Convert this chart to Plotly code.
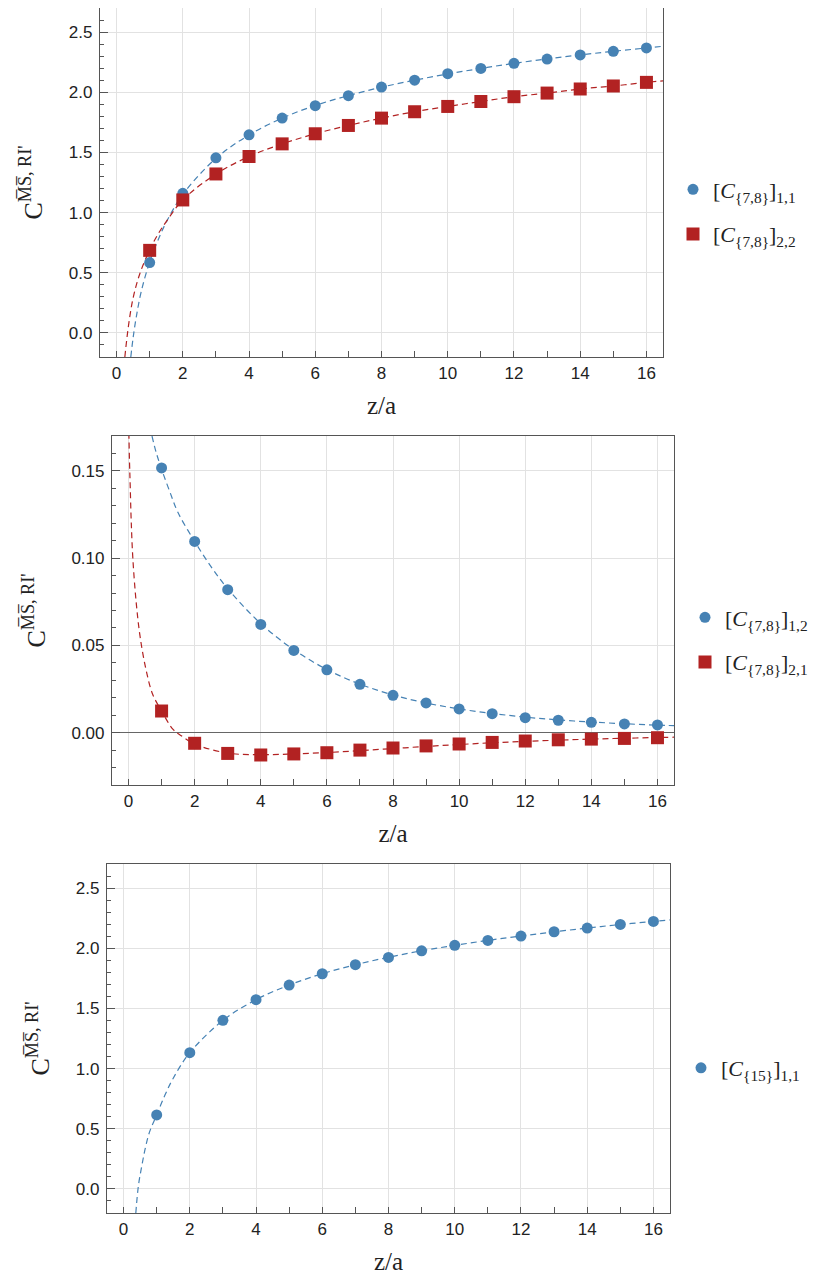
import plotly.graph_objects as go

# ---------------- data ----------------
z = [1, 2, 3, 4, 5, 6, 7, 8, 9, 10, 11, 12, 13, 14, 15, 16]

# panel 1
p1_c11 = [0.585, 1.160, 1.455, 1.646, 1.785, 1.888, 1.971, 2.043, 2.100, 2.154, 2.198, 2.240, 2.276, 2.310, 2.340, 2.368]
p1_c22 = [0.686, 1.105, 1.321, 1.466, 1.571, 1.655, 1.724, 1.785, 1.838, 1.882, 1.923, 1.963, 1.993, 2.027, 2.052, 2.082]
fit1_c11_z = [0.43, 0.5, 0.6, 0.75, 1, 1.25, 1.5, 2, 3, 4, 5, 6, 7, 8, 9, 10, 11, 12, 13, 14, 15, 16, 16.5]
fit1_c11 = [-0.2, -0.04, 0.14, 0.35, 0.59, 0.77, 0.92, 1.15, 1.45, 1.645, 1.785, 1.89, 1.972, 2.042, 2.10, 2.152,
            2.198, 2.24, 2.277, 2.31, 2.34, 2.368, 2.382]
fit1_c22_z = [0.25, 0.36, 0.5, 0.7, 1, 1.25, 1.5, 2, 3, 4, 5, 6, 7, 8, 9, 10, 11, 12, 13, 14, 15, 16, 16.5]
fit1_c22 = [-0.2, 0.06, 0.29, 0.49, 0.69, 0.82, 0.925, 1.105, 1.32, 1.466, 1.571, 1.655, 1.724, 1.785, 1.838, 1.882,
            1.923, 1.963, 1.993, 2.027, 2.052, 2.082, 2.095]

# panel 2
p2_c12 = [0.1517, 0.1096, 0.0819, 0.0620, 0.0471, 0.0360, 0.0277, 0.0214, 0.0170, 0.0136, 0.0109, 0.0086, 0.0071, 0.0059, 0.0050, 0.0044]
p2_c21 = [0.0124, -0.0061, -0.0119, -0.0128, -0.0122, -0.0115, -0.0100, -0.0088, -0.0076, -0.0065, -0.0056, -0.0048, -0.0041, -0.0037, -0.0033, -0.0029]
fit2_c12_z = [0.71, 0.83, 1, 1.25, 1.5, 2, 2.5, 3, 4, 5, 6, 7, 8, 9, 10, 11, 12, 13, 14, 15, 16, 16.5]
fit2_c12 = [0.17, 0.161, 0.151, 0.138, 0.126, 0.1096, 0.095, 0.0825, 0.0625, 0.0475, 0.0362, 0.0278, 0.0216, 0.0170,
            0.0136, 0.0110, 0.0089, 0.0073, 0.0061, 0.0051, 0.0043, 0.0040]
fit2_c21_z = [0.01, 0.03, 0.05, 0.08, 0.13, 0.23, 0.35, 0.53, 0.73, 1, 1.34, 1.54, 2, 3, 4, 5, 6, 7, 8, 9, 10, 11,
              12, 13, 14, 15, 16, 16.5]
fit2_c21 = [0.172, 0.155, 0.142, 0.122, 0.100, 0.075, 0.055, 0.036, 0.022, 0.0124, 0.002, -0.001, -0.0065, -0.0117,
            -0.0126, -0.0122, -0.0114, -0.0103, -0.0091, -0.0079, -0.0068, -0.0058, -0.0050, -0.0043, -0.0037,
            -0.0032, -0.0028, -0.0026]

# panel 3
p3_c11 = [0.615, 1.132, 1.401, 1.573, 1.694, 1.788, 1.863, 1.924, 1.979, 2.024, 2.065, 2.101, 2.137, 2.168, 2.198, 2.223]
fit3_c11_z = [0.37, 0.45, 0.55, 0.65, 0.78, 1, 1.25, 1.5, 2, 3, 4, 5, 6, 7, 8, 9, 10, 11, 12, 13, 14, 15, 16, 16.5]
fit3_c11 = [-0.2, 0.03, 0.19, 0.33, 0.47, 0.615, 0.78, 0.92, 1.132, 1.40, 1.573, 1.694, 1.788, 1.863, 1.925, 1.979,
            2.024, 2.065, 2.102, 2.136, 2.168, 2.197, 2.223, 2.235]

labels = {
    "c11": "[<i>C</i><sub>{7,8}</sub>]<sub>1,1</sub>",
    "c22": "[<i>C</i><sub>{7,8}</sub>]<sub>2,2</sub>",
    "c12": "[<i>C</i><sub>{7,8}</sub>]<sub>1,2</sub>",
    "c21": "[<i>C</i><sub>{7,8}</sub>]<sub>2,1</sub>",
    "c15": "[<i>C</i><sub>{15}</sub>]<sub>1,1</sub>",
}

BLUE = "#4682B4"
RED = "#B22222"
SERIF = "Liberation Serif"
SANS = "Liberation Sans"

fig = go.Figure()


def add_fit(x, y, color, xa, ya):
    fig.add_trace(go.Scatter(x=x, y=y, mode="lines", line=dict(color=color, width=1.2, dash="6px,4px", shape="spline"),
                             showlegend=False, hoverinfo="skip", xaxis=xa, yaxis=ya))


def add_pts(x, y, color, symbol, size, name, xa, ya, legend, group):
    fig.add_trace(go.Scatter(x=x, y=y, mode="markers", name=name,
                             marker=dict(color=color, symbol=symbol, size=size, line=dict(width=0)),
                             xaxis=xa, yaxis=ya, legend=legend, legendgroup=group))


add_fit(fit1_c11_z, fit1_c11, BLUE, "x", "y")
add_fit(fit1_c22_z, fit1_c22, RED, "x", "y")
add_pts(z, p1_c11, BLUE, "circle", 11, labels["c11"], "x", "y", "legend", "a")
add_pts(z, p1_c22, RED, "square", 13, labels["c22"], "x", "y", "legend", "b")

add_fit(fit2_c12_z, fit2_c12, BLUE, "x2", "y2")
add_fit(fit2_c21_z, fit2_c21, RED, "x2", "y2")
add_pts(z, p2_c12, BLUE, "circle", 11, labels["c12"], "x2", "y2", "legend2", "c")
add_pts(z, p2_c21, RED, "square", 13, labels["c21"], "x2", "y2", "legend2", "d")

add_fit(fit3_c11_z, fit3_c11, BLUE, "x3", "y3")
add_pts(z, p3_c11, BLUE, "circle", 11, labels["c15"], "x3", "y3", "legend3", "e")

# page body has an 8px margin: figure occupies the window minus that offset
OFF = 8
W, H = 831 - OFF, 1275 - OFF


def xdom(l, r):
    return [(l - OFF) / W, (r - OFF) / W]


def ydom(t, b):
    return [1 - (b - OFF) / H, 1 - (t - OFF) / H]


def px(x):
    return (x - OFF) / W


def py(y):
    return 1 - (y - OFF) / H


tickfont = dict(family=SANS, size=17, color="#222")
xtitlefont = dict(family=SERIF, size=25, color="#222")
ytitlefont = dict(family=SERIF, size=26, color="#222")
ytitle = "C<sup>M\u0305S\u0305, RI'</sup>"


def xaxis(domain, anchor):
    return dict(domain=domain, anchor=anchor, range=[-0.5, 16.5], tick0=0, dtick=2,
                ticks="inside", ticklen=6, tickcolor="#555", tickwidth=1,
                minor=dict(dtick=1, tick0=0, ticks="inside", ticklen=6, tickcolor="#555", showgrid=False),
                showgrid=True, gridcolor="#e2e2e2", gridwidth=1,
                showline=True, linecolor="#555", linewidth=1.2, mirror=True, zeroline=False,
                tickfont=tickfont, title=dict(text="z/a", font=xtitlefont, standoff=14))


def yaxis(domain, anchor, rng, dt, mdt, fmt, zl):
    return dict(domain=domain, anchor=anchor, range=rng, tick0=0, dtick=dt, tickformat=fmt,
                ticks="inside", ticklen=8, tickcolor="#555", tickwidth=1,
                minor=dict(dtick=mdt, tick0=0, ticks="inside", ticklen=4, tickcolor="#555", showgrid=False),
                showgrid=True, gridcolor="#e2e2e2", gridwidth=1,
                showline=True, linecolor="#555", linewidth=1.2, mirror=True,
                zeroline=zl, zerolinecolor="#666", zerolinewidth=1,
                tickfont=tickfont, ticklabelstandoff=3, title=dict(text=ytitle, font=ytitlefont, standoff=18))


legfont = dict(family=SERIF, size=22, color="#222")

fig.update_layout(
    width=W, height=H, margin=dict(l=0, r=0, t=0, b=0),
    paper_bgcolor="white", plot_bgcolor="white",
    xaxis=xaxis(xdom(100, 663), "y"),
    yaxis=yaxis(ydom(8, 357), "x", [-0.2, 2.7], 0.5, 0.1, ".1f", False),
    xaxis2=xaxis(xdom(112, 674), "y2"),
    yaxis2=yaxis(ydom(436, 785), "x2", [-0.03, 0.17], 0.05, 0.01, ".2f", True),
    xaxis3=xaxis(xdom(107, 670), "y3"),
    yaxis3=yaxis(ydom(864, 1213), "x3", [-0.2, 2.7], 0.5, 0.1, ".1f", False),
    legend=dict(x=px(673), y=py(212), xanchor="left", yanchor="middle", font=legfont,
                tracegroupgap=13, bgcolor="rgba(0,0,0,0)"),
    legend2=dict(x=px(685), y=py(640), xanchor="left", yanchor="middle", font=legfont,
                 tracegroupgap=13, bgcolor="rgba(0,0,0,0)"),
    legend3=dict(x=px(681), y=py(1068), xanchor="left", yanchor="middle", font=legfont,
                 tracegroupgap=13, bgcolor="rgba(0,0,0,0)"),
)

fig.write_html("out.html")
